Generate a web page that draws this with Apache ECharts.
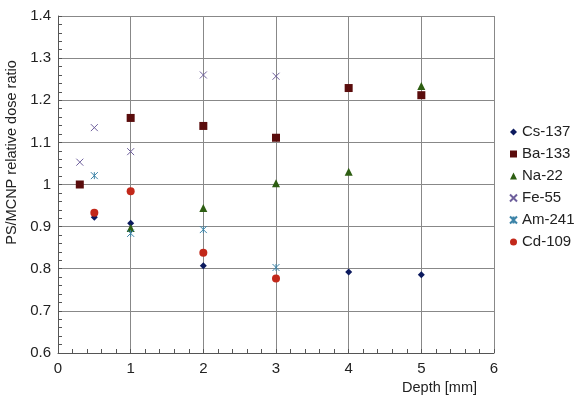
<!DOCTYPE html>
<html>
<head>
<meta charset="utf-8">
<script src="https://cdn.jsdelivr.net/npm/echarts@6/dist/echarts.min.js"></script>
<style>
  html, body { margin: 0; padding: 0; background: #fff; }
  #container { width: 574px; height: 398px; }
</style>
</head>
<body>
<div id="container"></div>
<script>
var dom = document.getElementById("container");
var myChart = echarts.init(dom);

// data: [depth mm, ratio]
var cs137 = [[0.5, 0.922], [1, 0.908], [2, 0.807], [4, 0.792], [5, 0.786]];
var ba133 = [[0.3, 1.0], [1, 1.158], [2, 1.139], [3, 1.111], [4, 1.229], [5, 1.212]];
var na22 = [[1, 0.897], [2, 0.944], [3, 1.003], [4, 1.03], [5, 1.234]];
var fe55 = [[0.3, 1.053], [0.5, 1.135], [1, 1.078], [2, 1.26], [3, 1.257]];
var am241 = [[0.5, 1.021], [1, 0.884], [2, 0.893], [3, 0.803]];
var cd109 = [[0.5, 0.933], [1, 0.984], [2, 0.838], [3, 0.777]];

var crossPath = 'path://M0,0L10,10M10,0L0,10';
var starPath = 'path://M0,0L10,10M10,0L0,10M5,0L5,10';

var font = 'Liberation Sans, Arial, sans-serif';

function mk(name, data, symbol, size, color, stroke) {
    var s = {
        name: name,
        type: 'scatter',
        data: data,
        symbol: symbol,
        symbolSize: size,
        itemStyle: { color: color, opacity: 1 }
    };
    if (stroke) {
        s.itemStyle = { color: 'transparent', borderColor: color, borderWidth: 1, opacity: 1 };
    }
    return s;
}

option = {
    animation: false,
    textStyle: { fontFamily: font },
    grid: { left: 58, right: 80, top: 16, bottom: 45, containLabel: false, outerBoundsMode: 'none' },
    legend: {
        orient: 'vertical',
        left: 504,
        top: 119,
        itemGap: 6,
        itemWidth: 7,
        itemHeight: 7,
        textStyle: { fontSize: 15, lineHeight: 16, color: '#222', fontFamily: font },
        data: ['Cs-137', 'Ba-133', 'Na-22', 'Fe-55', 'Am-241', 'Cd-109']
    },
    xAxis: {
        type: 'value',
        min: 0,
        max: 6,
        interval: 1,
        name: 'Depth [mm]',
        nameLocation: 'end',
        nameGap: -17,
        nameTextStyle: { fontSize: 14.5, color: '#222', align: 'right', verticalAlign: 'top', padding: [27, 0, 0, 0] },
        axisLine: { show: true, lineStyle: { color: '#555' } },
        axisTick: { show: true, inside: true, length: 4, lineStyle: { color: '#555' } },
        minorTick: { show: true, splitNumber: 5, length: 4, lineStyle: { color: '#555' } },
        axisLabel: { fontSize: 15, color: '#222', margin: 8 },
        splitLine: { show: true, lineStyle: { color: '#888' } }
    },
    yAxis: {
        type: 'value',
        min: 0.6,
        max: 1.4,
        interval: 0.1,
        name: 'PS/MCNP relative dose ratio',
        nameLocation: 'middle',
        nameGap: 36,
        nameTextStyle: { fontSize: 14.5, color: '#222', padding: [0, 0, 0, 64] },
        axisLine: { show: true, lineStyle: { color: '#555' } },
        axisTick: { show: true, inside: true, length: 4, lineStyle: { color: '#555' } },
        minorTick: { show: true, splitNumber: 5, length: 4, lineStyle: { color: '#555' } },
        axisLabel: { fontSize: 15, color: '#222', margin: 7 },
        splitLine: { show: true, lineStyle: { color: '#888' } }
    },
    series: [
        mk('Cs-137', cs137, 'diamond', 7, '#0c1a5e'),
        mk('Ba-133', ba133, 'rect', 8, '#5a0c0c'),
        mk('Na-22', na22, 'triangle', 8, '#2d5e12'),
        mk('Fe-55', fe55, crossPath, 7, '#6e5f9c', true),
        mk('Am-241', am241, starPath, 7, '#3d84a8', true),
        mk('Cd-109', cd109, 'circle', 8, '#c2281a')
    ]
};

if (option && typeof option === "object") {
    myChart.setOption(option, true);
}
</script>
</body>
</html>
